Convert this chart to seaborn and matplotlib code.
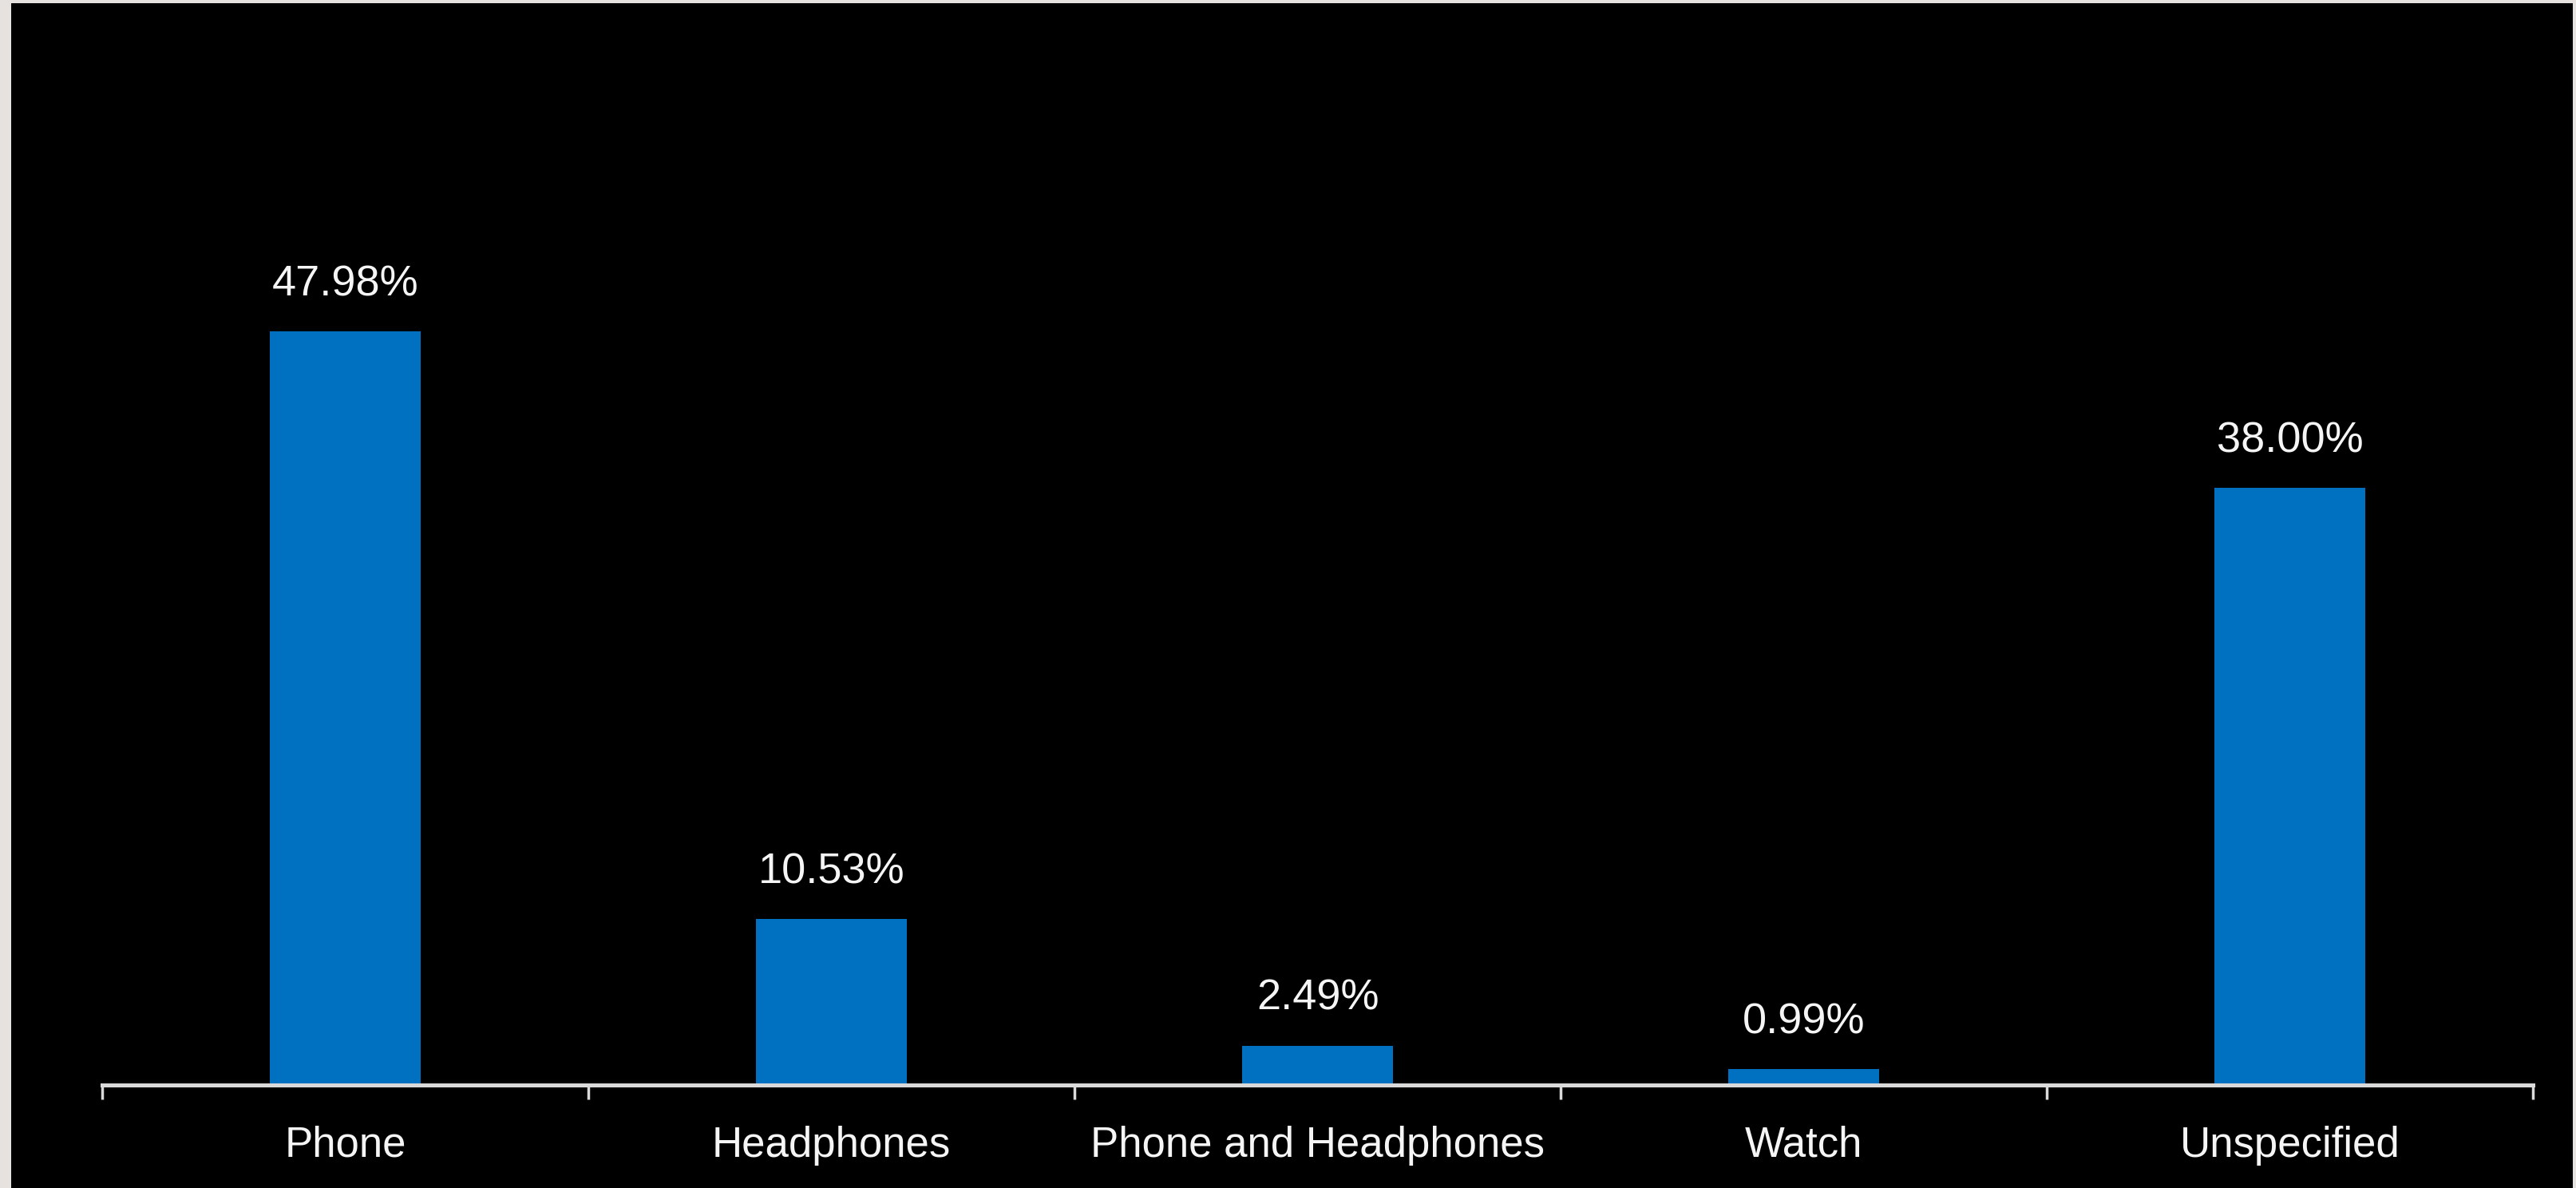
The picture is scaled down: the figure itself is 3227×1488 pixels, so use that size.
import matplotlib
matplotlib.use("Agg")
import matplotlib.pyplot as plt
from matplotlib.patches import Rectangle
from matplotlib.ticker import FixedLocator
import seaborn as sns
import pandas as pd

categories = ["Phone", "Headphones", "Phone and Headphones", "Watch", "Unspecified"]
values = [47.98, 10.53, 2.49, 0.99, 38.00]
value_labels = ["47.98%", "10.53%", "2.49%", "0.99%", "38.00%"]

W, H = 3227, 1488
DPI = 100

sns.set_style("white")
plt.rcParams["font.family"] = ["Liberation Sans", "DejaVu Sans"]

fig = plt.figure(figsize=(W / DPI, H / DPI), dpi=DPI, facecolor="#E5E2DF")
# black panel inside the light frame
fig.patches.append(Rectangle((14 / W, 0), (3223 - 14) / W, (H - 4) / H,
                             transform=fig.transFigure, facecolor="black",
                             edgecolor="none", zorder=-10))

px_per_unit = 19.66
ymax = 60
ax_bottom_px = 1358.5
ax = fig.add_axes([128 / W, (H - ax_bottom_px) / H, (3173 - 128) / W,
                   ymax * px_per_unit / H])
ax.set_facecolor("none")
ax.patch.set_visible(False)

df = pd.DataFrame({"category": categories, "value": values})
sns.barplot(data=df, x="category", y="value", color="#0070C0", width=0.31,
            saturation=1, ax=ax, order=categories, linewidth=0, edgecolor="none")

ax.set_xlim(-0.5, len(categories) - 0.5)
ax.set_ylim(0, ymax)
ax.set_xlabel("")
ax.set_ylabel("")
ax.set_yticks([])

for s in ["top", "left", "right"]:
    ax.spines[s].set_visible(False)
ax.spines["bottom"].set_color("#D9D9D9")
ax.spines["bottom"].set_linewidth(3.6)

# category boundary ticks
ax.xaxis.set_minor_locator(FixedLocator([i - 0.5 for i in range(len(categories) + 1)]))
ax.tick_params(axis="x", which="minor", length=12.6, width=2.5, color="#D9D9D9",
               direction="out", bottom=True)
ax.tick_params(axis="x", which="major", length=0, pad=37)

for lbl in ax.get_xticklabels():
    lbl.set_fontfamily(["Liberation Sans", "DejaVu Sans"])
    lbl.set_fontsize(38)
    lbl.set_color("#F5F5F5")

for cont in ax.containers:
    ax.bar_label(cont, labels=value_labels, padding=24.5, fontsize=39,
                 color="#F5F5F5", fontfamily=["Liberation Sans", "DejaVu Sans"])

fig.savefig("out.png", dpi=DPI, facecolor=fig.get_facecolor())
